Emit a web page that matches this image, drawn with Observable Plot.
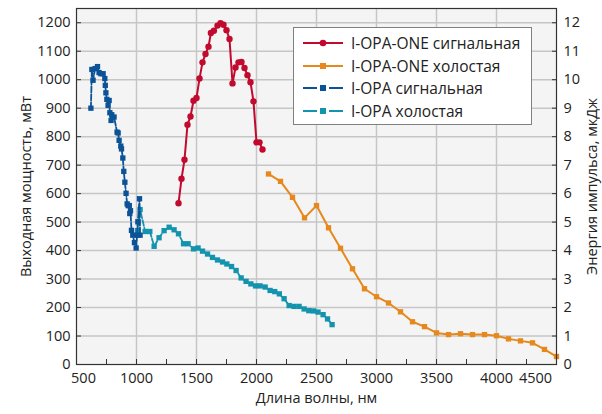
<!DOCTYPE html>
<html><head><meta charset="utf-8">
<script src="https://cdn.jsdelivr.net/npm/d3@7"></script>
<script src="https://cdn.jsdelivr.net/npm/@observablehq/plot@0.6"></script>
<style>
body{margin:0;background:#fff;font-family:"Open Sans",sans-serif;}
#chart{position:relative;width:602px;height:414px;}
#legend{position:absolute;left:293px;top:27px;width:239px;height:98px;background:#fff;border:1px solid #808080;box-sizing:border-box;font-size:15.5px;color:#222;padding-top:4px;}
.row{display:flex;align-items:center;height:22.5px;white-space:nowrap;}
.row svg{margin-left:9px;margin-right:8px;flex:none;}
</style></head><body><div id="chart"><div id="legend"></div></div>
<script>
// I-OPA-ONE signal (nm, mW)
const oneSigWl = [1350,1375,1400,1425,1450,1475,1500,1525,1550,1575,1600,1620,1645,1675,1700,1725,1750,1775,1800,1825,1850,1875,1900,1925,1950,1975,2000,2025,2050];
const oneSigP  = [566,652,719,842,871,926,936,1004,1061,1090,1116,1164,1172,1190,1198,1193,1174,1143,987,1043,1061,1062,1041,1016,991,924,780,780,755];
// I-OPA-ONE idler
const oneIdlWl = [2100,2200,2300,2400,2500,2600,2700,2800,2900,3000,3100,3200,3300,3400,3500,3600,3700,3800,3900,4000,4100,4200,4300,4400,4500];
const oneIdlP  = [669,643,587,515,558,480,408,336,266,238,216,185,150,133,111,105,108,105,105,101,90,83,76,53,28];
// I-OPA signal
const opaSigWl = [620,628,638,655,675,688,703,722,736,740,745,753,763,772,778,788,794,813,838,847,855,869,875,886,894,903,913,922,930,940,944,950,958,969,983,997,1005,1011,1025,1030];
const opaSigP  = [900,1036,998,1039,1046,1025,1021,1021,1004,980,954,931,910,927,884,857,877,869,816,813,787,767,757,725,678,640,601,564,558,558,530,540,471,454,428,409,454,501,582,454];
// I-OPA idler
const opaIdlWl = [1008,1030,1072,1111,1147,1188,1230,1272,1313,1350,1392,1430,1475,1513,1550,1592,1633,1675,1717,1753,1792,1830,1872,1913,1953,1992,2030,2072,2113,2152,2190,2230,2272,2313,2355,2397,2436,2475,2513,2555,2592,2630];
const opaIdlP  = [470,544,467,467,415,445,470,482,473,459,424,424,406,409,398,388,376,367,360,353,344,330,304,292,283,276,276,272,260,256,248,231,207,204,204,195,189,188,184,175,160,140];

const seriesNames = ["I-OPA-ONE сигнальная","I-OPA-ONE холостая","I-OPA сигнальная","I-OPA холостая"];
const seriesColors = ["#c20a2f","#e6881c","#0b5297","#1393ae"];
const xTicks = [500,1000,1500,2000,2500,3000,3500,4000,4500];
const yTicks = [0,100,200,300,400,500,600,700,800,900,1000,1100,1200];

const toRows = (wl, p) => wl.map((w, i) => ({wl: w, p: p[i]}));
const s1 = toRows(oneSigWl, oneSigP), s2 = toRows(oneIdlWl, oneIdlP), s3 = toRows(opaSigWl, opaSigP), s4 = toRows(opaIdlWl, opaIdlP);

const minorX = d3.range(500, 4501, 250);
const font = {fontSize: 14.5, fill: "#222"};
const fmt = d3.format("d");

const chart = Plot.plot({
  width: 602, height: 414,
  marginLeft: 76, marginRight: 46, marginTop: 8, marginBottom: 50,
  style: {fontFamily: "'Open Sans', sans-serif", fontSize: "14px", color: "#222", background: "transparent"},
  x: {domain: [500, 4500]},
  y: {domain: [0, 1250]},
  marks: [
    Plot.frame({fill: "#f4f4f4"}),
    Plot.gridX(xTicks.slice(1, -1), {stroke: "#c6c6c6", strokeOpacity: 1, strokeWidth: 1.5}),
    Plot.gridY(yTicks.slice(1), {stroke: "#c6c6c6", strokeOpacity: 1, strokeWidth: 1.5}),
    Plot.line(s4, {x: "wl", y: "p", stroke: seriesColors[3], strokeWidth: 1.8, strokeDasharray: "6,2"}),
    Plot.dot(s4, {x: "wl", y: "p", symbol: "square", r: 3, fill: seriesColors[3]}),
    Plot.line(s3, {x: "wl", y: "p", stroke: seriesColors[2], strokeWidth: 1.8, strokeDasharray: "6,2"}),
    Plot.dot(s3, {x: "wl", y: "p", symbol: "square", r: 3, fill: seriesColors[2]}),
    Plot.line(s2, {x: "wl", y: "p", stroke: seriesColors[1], strokeWidth: 2}),
    Plot.dot(s2, {x: "wl", y: "p", symbol: "square", r: 3, fill: seriesColors[1]}),
    Plot.line(s1, {x: "wl", y: "p", stroke: seriesColors[0], strokeWidth: 2}),
    Plot.dot(s1, {x: "wl", y: "p", r: 3.2, fill: seriesColors[0]}),
    Plot.frame({stroke: "#333", strokeWidth: 1.2}),
    // inward ticks
    Plot.axisX(minorX, {anchor: "bottom", tickSize: 5, dy: -5, tickFormat: () => "", label: null, stroke: "#333"}),
    Plot.axisY(yTicks, {anchor: "left", tickSize: 5, dx: 5, tickFormat: () => "", label: null, stroke: "#333"}),
    Plot.axisY(yTicks, {anchor: "right", tickSize: 5, dx: -5, tickFormat: () => "", label: null, stroke: "#333"}),
    // x labels (end labels nudged inward as in the reference)
    Plot.axisX(xTicks.slice(1, -1), {anchor: "bottom", tickSize: 0, tickPadding: 8, ...font, tickFormat: fmt, label: "Длина волны, нм", labelAnchor: "center", labelOffset: 38, labelArrow: "none"}),
    Plot.axisX(xTicks.slice(0, 1), {anchor: "bottom", tickSize: 0, tickPadding: 8, ...font, tickFormat: fmt, dx: 7, label: null}),
    Plot.axisX(xTicks.slice(-1), {anchor: "bottom", tickSize: 0, tickPadding: 8, ...font, tickFormat: fmt, dx: -21, label: null}),
    Plot.axisY(yTicks, {anchor: "left", tickSize: 0, tickPadding: 6, ...font, tickFormat: fmt, label: "Выходная мощность, мВт", labelAnchor: "center", labelOffset: 56, labelArrow: "none"}),
    Plot.axisY(yTicks, {anchor: "right", tickSize: 0, tickPadding: 7, ...font, tickFormat: d => String(d / 100), label: "Энергия импульса, мкДж", labelAnchor: "center", labelOffset: 40, labelArrow: "none"})
  ]
});
document.getElementById("chart").prepend(chart);

// legend
const legend = d3.select("#legend");
seriesNames.forEach((name, i) => {
  const row = legend.append("div").attr("class", "row");
  const svg = row.append("svg").attr("width", 40).attr("height", 12);
  const dashed = i >= 2;
  if (dashed) {
    svg.append("line").attr("x1", 0).attr("x2", 14).attr("y1", 6).attr("y2", 6).attr("stroke", seriesColors[i]).attr("stroke-width", 2);
    svg.append("line").attr("x1", 26).attr("x2", 40).attr("y1", 6).attr("y2", 6).attr("stroke", seriesColors[i]).attr("stroke-width", 2);
  } else {
    svg.append("line").attr("x1", 0).attr("x2", 40).attr("y1", 6).attr("y2", 6).attr("stroke", seriesColors[i]).attr("stroke-width", 2);
  }
  if (i === 0) svg.append("circle").attr("cx", 20).attr("cy", 6).attr("r", 3.3).attr("fill", seriesColors[i]);
  else svg.append("rect").attr("x", 17).attr("y", 3).attr("width", 6).attr("height", 6).attr("fill", seriesColors[i]);
  row.append("span").text(name);
});
</script>
</body></html>
